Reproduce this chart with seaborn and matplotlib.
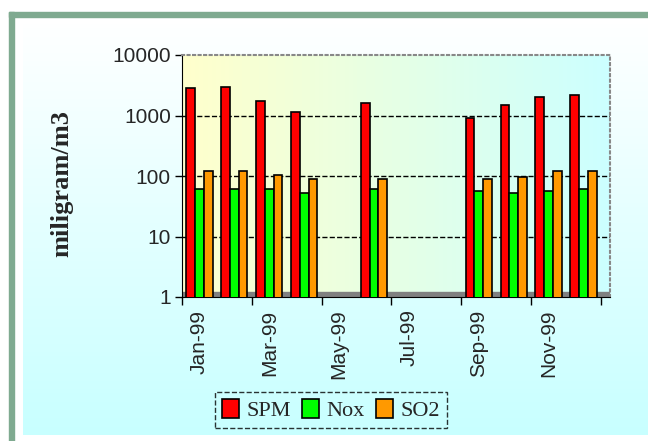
import numpy as np
import pandas as pd
import matplotlib
matplotlib.use("Agg")
import matplotlib.pyplot as plt
import seaborn as sns
from matplotlib.colors import LinearSegmentedColormap
from matplotlib.patches import Rectangle

months = ["Jan-99", "Feb-99", "Mar-99", "Apr-99", "May-99", "Jun-99",
          "Jul-99", "Aug-99", "Sep-99", "Oct-99", "Nov-99", "Dec-99"]
spm = [2800, 3000, 1750, 1150, None, 1600, None, None, 900, 1500, 2000, 2200]
nox = [60, 60, 60, 53, None, 60, None, None, 56, 53, 56, 60]
so2 = [120, 120, 105, 90, None, 90, None, None, 90, 95, 120, 120]
series = ["SPM", "Nox", "SO2"]
colors = ["#FF0000", "#00FF00", "#FF9900"]

df = pd.DataFrame({"month": months, "SPM": spm, "Nox": nox, "SO2": so2})
df = df.melt(id_vars="month", var_name="pollutant", value_name="value")

sns.set_style("white")

fig = plt.figure(figsize=(6.48, 4.41), dpi=100)

# chart background: white -> light cyan
bg = fig.add_axes([0, 0, 1, 1], zorder=-10)
bg_cmap = LinearSegmentedColormap.from_list("bg", ["#FFFFFF", "#C8FFFF"])
bg.imshow(np.linspace(0, 1, 100).reshape(-1, 1), cmap=bg_cmap, aspect="auto",
          extent=[23 / 648, 1, 6 / 441, 1 - 20 / 441])
bg.set_xlim(0, 1)
bg.set_ylim(0, 1)
# green frame on left and top
bg.add_patch(Rectangle((9 / 648, 0), 5 / 648, 1 - 12 / 441, color="#7FAA90"))
bg.add_patch(Rectangle((9 / 648, 1 - 17 / 441), 1, 5 / 441, color="#7FAA90"))
bg.axis("off")

ax = fig.add_axes([182 / 648, 1 - 297 / 441, (610 - 182) / 648, (297 - 55) / 441])

# plot area gradient: pale yellow -> pale cyan
pa_cmap = LinearSegmentedColormap.from_list("pa", ["#FFFFCC", "#CCFFFF"])
ax.imshow(np.linspace(0, 1, 100).reshape(1, -1), cmap=pa_cmap, aspect="auto",
          extent=[0, 1, 0, 1], transform=ax.transAxes, zorder=0)

sns.barplot(data=df, x="month", y="value", hue="pollutant", order=months,
            hue_order=series, palette=colors, saturation=1, width=0.75,
            edgecolor="black", linewidth=1.2, ax=ax, zorder=3, legend=True)

ax.set_yscale("log")
ax.set_ylim(1, 10000)
ax.set_xlim(-0.5, 11.76)
ax.set_yticks([1, 10, 100, 1000, 10000])
ax.set_yticklabels(["1", "10", "100", "1000", "10000"], fontsize=15,
                   family="Liberation Sans")
ax.yaxis.set_minor_locator(matplotlib.ticker.NullLocator())
ax.tick_params(axis="y", left=True, length=5, width=1, color="black", pad=3)

# labels every other month, tick marks on the boundaries
ax.set_xticks(range(0, 12, 2))
ax.set_xticklabels(months[::2], rotation=90, fontsize=15,
                   family="Liberation Sans")
ax.tick_params(axis="x", bottom=True, length=0, pad=9)
ax.set_xticks(np.arange(-0.5, 12, 2), minor=True)
ax.tick_params(axis="x", which="minor", bottom=True, length=6, width=1,
               color="black")

ax.grid(False)
for v in [10, 100, 1000]:
    ax.axhline(v, color="black", linestyle="--", linewidth=1, zorder=1)
ax.axhspan(1, 1.2, color="#808080", zorder=2)

for side in ["top", "right"]:
    ax.spines[side].set_color("#888888")
    ax.spines[side].set_linestyle(":")
    ax.spines[side].set_linewidth(1.5)
ax.spines["left"].set_color("black")
ax.spines["bottom"].set_color("black")

ax.set_xlabel("")
ax.set_ylabel("miligram/m3", fontsize=19, fontweight="bold",
              family="Liberation Serif")
ax.yaxis.set_label_coords(-0.255, 0.47)

handles, labels = ax.get_legend_handles_labels()
ax.legend(handles, labels, loc="center",
          bbox_to_anchor=(331 / 648, 1 - 410 / 441),
          bbox_transform=fig.transFigure,
          ncol=3, frameon=True, fancybox=False, edgecolor="black",
          prop={"family": "Liberation Serif", "size": 16},
          handlelength=0.75, handleheight=0.9, handletextpad=0.35,
          columnspacing=0.5, borderpad=0.3)
leg = ax.get_legend()
leg.get_frame().set_linestyle("--")
leg.get_frame().set_facecolor("none")

fig.savefig("out.png", dpi=100)
